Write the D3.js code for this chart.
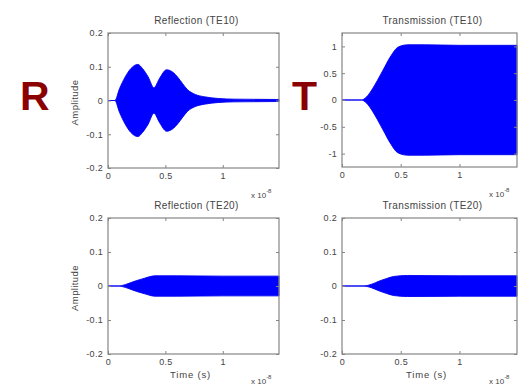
<!DOCTYPE html>
<html>
<head>
<meta charset="utf-8">
<script src="https://cdn.jsdelivr.net/npm/d3@7"></script>
<style>
  body { margin: 0; background: #fff; }
  text { font-family: "Liberation Sans", Arial, sans-serif; }
</style>
</head>
<body>
<svg id="chart" width="518" height="385"></svg>
<script>
// time axis in units of 1e-8 s, envelope amplitude
const timeR10 = [0, 0.06, 0.1, 0.15, 0.2, 0.26, 0.3, 0.35, 0.4, 0.45, 0.51, 0.56, 0.61, 0.65, 0.69, 0.76, 0.84, 0.96, 1.1, 1.49];
const envR10  = [0, 0, 0.035, 0.07, 0.095, 0.107, 0.095, 0.07, 0.038, 0.066, 0.091, 0.085, 0.068, 0.05, 0.033, 0.018, 0.011, 0.006, 0.004, 0.003];

const timeT10 = [0, 0.165, 0.21, 0.26, 0.3, 0.35, 0.41, 0.48, 0.56, 0.7, 1.0, 1.49];
const envT10  = [0, 0, 0.06, 0.21, 0.36, 0.56, 0.8, 0.99, 1.03, 1.03, 1.02, 1.02];

const timeR20 = [0, 0.09, 0.15, 0.2, 0.25, 0.32, 0.41, 0.6, 1.0, 1.49];
const envR20  = [0, 0, 0.004, 0.01, 0.016, 0.023, 0.03, 0.03, 0.029, 0.029];

const timeT20 = [0, 0.18, 0.25, 0.32, 0.38, 0.44, 0.56, 1.0, 1.49];
const envT20  = [0, 0, 0.005, 0.015, 0.022, 0.028, 0.031, 0.03, 0.03];

const xTicks = [0, 0.5, 1];
const yTicksSmall = [-0.2, -0.1, 0, 0.1, 0.2];
const yTicksBig = [-1, -0.5, 0, 0.5, 1];

const panels = [
  { title: "Reflection (TE10)", t: timeR10, v: envR10, box: [108, 279, 33, 168], ydom: [-0.2, 0.2], yt: yTicksSmall, ylab: true, xlab: false },
  { title: "Transmission (TE10)", t: timeT10, v: envT10, box: [342, 517, 33, 167], ydom: [-1.25, 1.25], yt: yTicksBig, ylab: false, xlab: false },
  { title: "Reflection (TE20)", t: timeR20, v: envR20, box: [108, 279, 218, 354], ydom: [-0.2, 0.2], yt: yTicksSmall, ylab: true, xlab: true },
  { title: "Transmission (TE20)", t: timeT20, v: envT20, box: [342, 517, 218, 354], ydom: [-0.2, 0.2], yt: yTicksSmall, ylab: false, xlab: true }
];

const svg = d3.select("#chart");
const axisColor = "#858585";
const textColor = "#444";

panels.forEach(p => {
  const [x0, x1, y0, y1] = p.box;
  const x = d3.scaleLinear().domain([0, 1.49]).range([x0, x1]);
  const y = d3.scaleLinear().domain(p.ydom).range([y1, y0]);
  const data = p.t.map((t, i) => ({ t: t, v: p.v[i] }));

  const g = svg.append("g");

  const area = d3.area()
    .x(d => x(d.t))
    .y0(d => y(-d.v))
    .y1(d => y(d.v))
    .curve(d3.curveMonotoneX);

  g.append("path")
    .datum(data)
    .attr("d", area)
    .attr("fill", "#0000ff")
    .attr("stroke", "#0000ee")
    .attr("stroke-width", 0.9);

  // ticks, pointing inwards on all four sides
  const fmt = d => String(d);
  const bottom = g.append("g").attr("transform", `translate(0,${y1})`)
    .call(d3.axisBottom(x).tickValues(xTicks).tickSizeInner(-3).tickSizeOuter(0).tickPadding(5).tickFormat(fmt));
  const top = g.append("g").attr("transform", `translate(0,${y0})`)
    .call(d3.axisTop(x).tickValues(xTicks).tickSizeInner(-3).tickSizeOuter(0).tickFormat(() => ""));
  const left = g.append("g").attr("transform", `translate(${x0},0)`)
    .call(d3.axisLeft(y).tickValues(p.yt).tickSizeInner(-3).tickSizeOuter(0).tickPadding(5).tickFormat(fmt));
  const right = g.append("g").attr("transform", `translate(${x1},0)`)
    .call(d3.axisRight(y).tickValues(p.yt).tickSizeInner(-3).tickSizeOuter(0).tickFormat(() => ""));

  [bottom, top, left, right].forEach(a => {
    a.select(".domain").remove();
    a.selectAll("line").attr("stroke", axisColor);
    a.selectAll("text").attr("fill", textColor).attr("font-size", "9px")
      .attr("letter-spacing", "0.3px")
      .attr("font-family", "Liberation Sans, Arial, sans-serif");
  });

  g.append("rect")
    .attr("x", x0).attr("y", y0)
    .attr("width", x1 - x0).attr("height", y1 - y0)
    .attr("fill", "none")
    .attr("stroke", axisColor)
    .attr("stroke-width", 1.2);

  g.append("text")
    .attr("x", (x0 + x1) / 2 + 3)
    .attr("y", y0 - 9)
    .attr("text-anchor", "middle")
    .attr("font-size", "10px")
    .attr("letter-spacing", "0.4px")
    .attr("fill", textColor)
    .text(p.title);

  const ex = g.append("text")
    .attr("x", x1 - 28)
    .attr("y", y1 + 30)
    .attr("font-size", "8px")
    .attr("fill", textColor)
    .text("x 10");
  ex.append("tspan").attr("dy", -5).attr("font-size", "6px").text("-8");

  if (p.ylab) {
    g.append("text")
      .attr("transform", `translate(${x0 - 30},${(y0 + y1) / 2 + 2}) rotate(-90)`)
      .attr("text-anchor", "middle")
      .attr("font-size", "9.5px")
      .attr("letter-spacing", "0.4px")
      .attr("fill", textColor)
      .text("Amplitude");
  }
  if (p.xlab) {
    g.append("text")
      .attr("x", (x0 + x1) / 2 - 3)
      .attr("y", y1 + 24)
      .attr("text-anchor", "middle")
      .attr("font-size", "9.5px")
      .attr("letter-spacing", "0.8px")
      .attr("fill", textColor)
      .text("Time (s)");
  }
});

svg.append("text")
  .attr("x", 20).attr("y", 110)
  .attr("font-size", "41px").attr("font-weight", "bold")
  .attr("fill", "#8b0000")
  .text("R");
svg.append("text")
  .attr("x", 292).attr("y", 110)
  .attr("font-size", "41px").attr("font-weight", "bold")
  .attr("fill", "#8b0000")
  .text("T");
</script>
</body>
</html>
